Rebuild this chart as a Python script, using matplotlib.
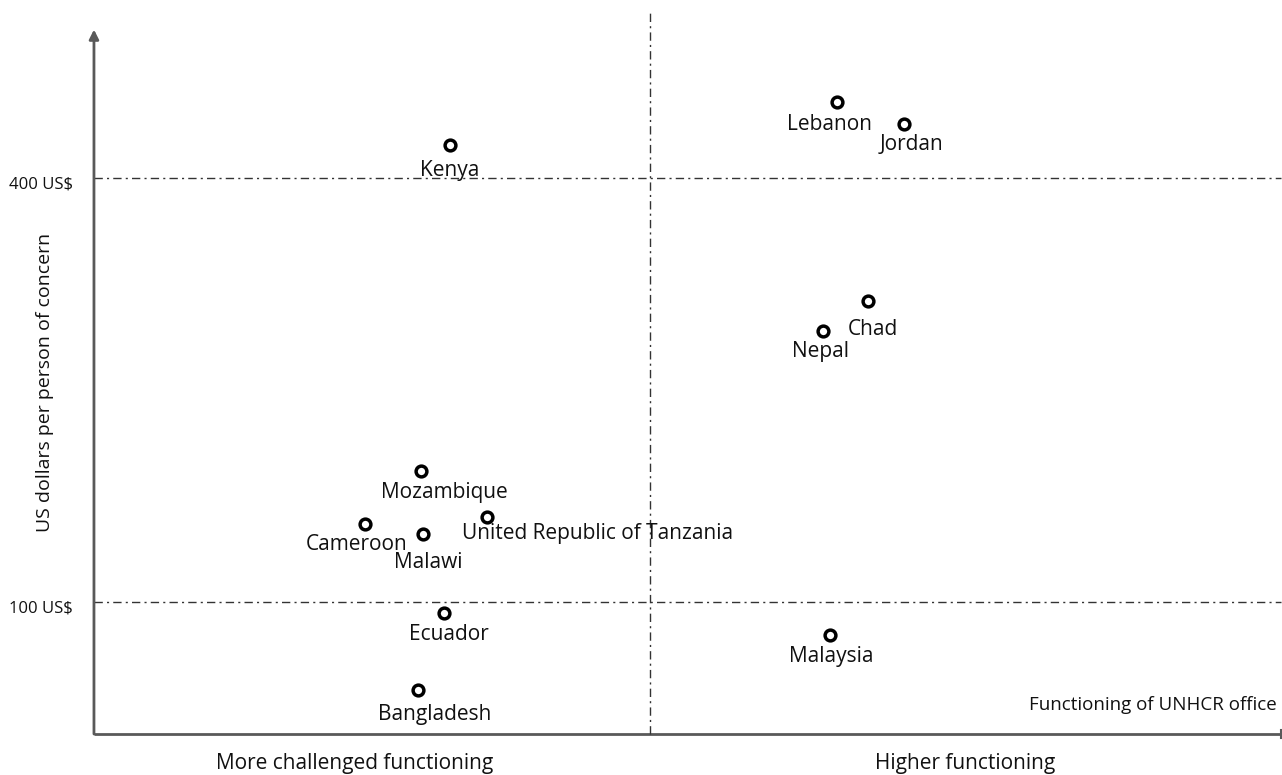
import matplotlib
matplotlib.use("Agg")
import matplotlib.pyplot as plt

plt.rcParams['font.family'] = ['Open Sans', 'DejaVu Sans']

# functioning score (0 = axis origin, 50 = divide) and US$ per person of concern
countries = ['Kenya', 'Lebanon', 'Jordan', 'Chad', 'Nepal', 'Mozambique',
             'United Republic of Tanzania', 'Cameroon', 'Malawi', 'Ecuador',
             'Malaysia', 'Bangladesh']
functioning = [32.0, 66.8, 72.8, 69.6, 65.6, 29.4, 35.3, 24.4, 29.6, 31.5, 66.2, 29.1]
usd_per_person = [423, 454, 438, 313, 292, 193, 160, 155, 148, 92, 77, 38]
# label offsets in pixels (dx, dy) and horizontal alignment
label_offsets = [(0, -25), (-7, -23), (8, -20), (5, -29), (-3, -21), (23, -22),
                 (-25, -16), (-9, -20), (5, -28), (5, -21), (1, -22), (17, -25)]
label_ha = ['center', 'center', 'center', 'center', 'center', 'center',
            'left', 'center', 'center', 'center', 'center', 'center']

ref_levels = [400, 100]
ref_labels = ['400 US$', '100 US$']

fig = plt.figure(figsize=(12.82, 7.75), dpi=100)
ax = fig.add_axes([0, 0, 1, 1])
ax.set_xlim(-8.45, 106.83)
ax.set_ylim(-22.4, 525.9)
ax.axis('off')

y0 = 6.6
x_end = 106.7
axis_col = '#595959'

# axes with arrows
ax.annotate('', xy=(0, 505), xytext=(0, y0),
            arrowprops=dict(arrowstyle='-|>', color=axis_col, lw=2, mutation_scale=14,
                            shrinkA=0, shrinkB=0))
ax.plot([0, x_end], [y0, y0], color=axis_col, lw=2, solid_capstyle='butt')
ax.plot([x_end, x_end], [y0 - 2.5, y0 + 2.5], color=axis_col, lw=1.5)

# reference lines
for lvl, lab in zip(ref_levels, ref_labels):
    ax.plot([0, x_end], [lvl, lvl], color='#333333', lw=1, ls=(0, (6, 3, 1.5, 3)))
    ax.annotate(lab, xy=(0, lvl), xytext=(-21, -7), textcoords='offset pixels',
                ha='right', va='center', fontsize=12, color='#111111')
ax.plot([50, 50], [y0, 519], color='#333333', lw=1, ls=(0, (6, 3, 1.5, 3)))

# points and labels
ax.scatter(functioning, usd_per_person, s=60, facecolors='white', edgecolors='black',
           linewidths=2.5, zorder=5)
for name, x, y, (dx, dy), ha in zip(countries, functioning, usd_per_person,
                                      label_offsets, label_ha):
    ax.annotate(name, xy=(x, y), xytext=(dx, dy), textcoords='offset pixels',
                ha=ha, va='center', fontsize=15, color='#111111', zorder=6)

# axis titles
fig.text(45 / 1282, 1 - 382 / 775, 'US dollars per person of concern', rotation=90,
         ha='center', va='center', fontsize=14, color='#111111')
fig.text(355 / 1282, 1 - 763 / 775, 'More challenged functioning',
         ha='center', va='center', fontsize=15, color='#111111')
fig.text(965 / 1282, 1 - 763 / 775, 'Higher functioning',
         ha='center', va='center', fontsize=15, color='#111111')
fig.text(1277 / 1282, 1 - 705 / 775, 'Functioning of UNHCR office',
         ha='right', va='center', fontsize=13.5, color='#111111')

fig.savefig('out.png', dpi=100)
